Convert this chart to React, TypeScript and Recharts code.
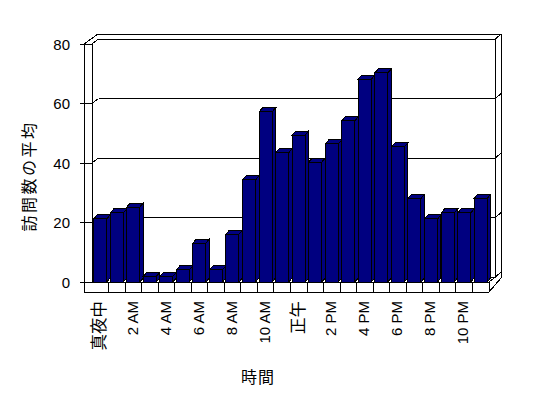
import React from 'react';
import { BarChart, Bar, XAxis, YAxis, CartesianGrid, ReferenceArea } from 'recharts';

const hourLabels = ['真夜中', '1 AM', '2 AM', '3 AM', '4 AM', '5 AM', '6 AM', '7 AM', '8 AM', '9 AM', '10 AM', '11 AM', '正午', '1 PM', '2 PM', '3 PM', '4 PM', '5 PM', '6 PM', '7 PM', '8 PM', '9 PM', '10 PM', '11 PM'];
const avgVisits = [21.2, 23.2, 25.2, 1.9, 1.9, 4.1, 13.1, 4.1, 16.1, 34.3, 57.2, 43.4, 49.4, 40.3, 46.4, 54.2, 68.2, 70.3, 45.4, 28.1, 21.2, 23.2, 23.2, 28.1];
const yTicks = [0, 20, 40, 60, 80];
const xTitle = '時間';
const yTitle = '訪問数の平均';

const data = hourLabels.map((hour, i) => ({ hour, visits: avgVisits[i] }));

const FONT = "'Liberation Sans', 'Noto Sans CJK JP', sans-serif";
const NAVY = '#000080';
const WALL_DX = 6.5;
const WALL_DY = 5;
const BAR_DX = 3.5;
const BAR_DY = 4;

function Bar3D(props: any) {
  const { x, y, width, height } = props;
  if (x == null || y == null || !width) return null;
  const r = x + width;
  const b = y + height;
  return (
    <g stroke="#000" strokeWidth={1} fill={NAVY} shapeRendering="crispEdges">
      <polygon points={`${r},${y} ${r + BAR_DX},${y - BAR_DY} ${r + BAR_DX},${b - BAR_DY} ${r},${b}`} />
      <polygon points={`${x},${y} ${x + BAR_DX},${y - BAR_DY} ${r + BAR_DX},${y - BAR_DY} ${r},${y}`} />
      <rect x={x} y={y} width={width} height={height} />
    </g>
  );
}

function GridLine(props: any) {
  const { x1, x2, y1 } = props;
  const by = y1 - WALL_DY;
  return (
    <g stroke="#000" strokeWidth={1} fill="none" shapeRendering="crispEdges">
      <line x1={x1 - 12} y1={y1} x2={x1} y2={y1} />
      <line x1={x1} y1={y1} x2={x1 + WALL_DX} y2={by} />
      <line x1={x1 + WALL_DX} y1={by} x2={x2 + WALL_DX} y2={by} />
      <line x1={x2 + WALL_DX} y1={by} x2={x2 + WALL_DX + 5.5} y2={by - 5} />
    </g>
  );
}

function Frame(props: any) {
  const { x, y, width, height } = props;
  const r = x + width;
  const b = y + height;
  const ol = x - 8;
  const fb = b + 10;
  const br = r + WALL_DX;
  const or = br + 5.5;
  const ot = y - 10;
  return (
    <g stroke="#000" strokeWidth={1} fill="none">
      <g shapeRendering="crispEdges">
        <polygon points={`${ol},${y} ${x + 6},${ot} ${or},${ot} ${or},${b - 4} ${r},${fb} ${ol},${fb}`} />
        <line x1={ol} y1={y} x2={x} y2={y} />
        <line x1={x} y1={y} x2={x} y2={b} />
        <line x1={x} y1={b} x2={r} y2={b} />
        <line x1={r} y1={b} x2={r} y2={fb} />
        <line x1={r} y1={b} x2={br} y2={b - WALL_DY} />
        <line x1={br} y1={y - WALL_DY} x2={br} y2={b - WALL_DY} />
        <line x1={br} y1={y - WALL_DY} x2={or} y2={ot} />
      </g>
      <text x={258} y={377} textAnchor="middle" dominantBaseline="central" fontSize={16} letterSpacing={1} fontFamily={FONT} fill="#000" stroke="none">{xTitle}</text>
      <text x={29} y={176} transform="rotate(-90 29 176)" textAnchor="middle" dominantBaseline="central" fontSize={16} letterSpacing={2.5} fontFamily={FONT} fill="#000" stroke="none">{yTitle}</text>
    </g>
  );
}

function XTick(props: any) {
  const { x, y, payload, index } = props;
  const half = payload && payload.offset ? payload.offset : 8.27;
  const i = payload && payload.index != null ? payload.index : index;
  const left = x - half;
  const ly = y + 19;
  const label = String(payload.value);
  const isCJK = /[^\x00-\x7F]/.test(label);
  return (
    <g>
      {i > 0 && <line x1={left} y1={y} x2={left} y2={y + 10} stroke="#000" strokeWidth={1} shapeRendering="crispEdges" />}
      {i % 2 === 0 && (
        <text x={x - 1} y={ly} transform={`rotate(-90 ${x - 1} ${ly})`} textAnchor="end" dy="0.35em" fontSize={isCJK ? 16.5 : 15} fontFamily={FONT} fill="#000">
          {label}
        </text>
      )}
    </g>
  );
}

function YTick(props: any) {
  const { x, y, payload } = props;
  return (
    <text x={x - 22} y={y} textAnchor="end" dominantBaseline="central" fontSize={15} fontFamily={FONT} fill="#000">
      {payload.value}
    </text>
  );
}

export default function App() {
  return (
    <div style={{ position: 'absolute', left: 0, top: 0, width: 548, height: 398, background: '#fff' }}>
      <BarChart width={548} height={398} data={data} margin={{ top: 44, right: 59, bottom: 0, left: 0 }} barCategoryGap="10%">
        <CartesianGrid vertical={false} horizontal={(p: any) => <GridLine {...p} />} />
        <XAxis dataKey="hour" interval={0} axisLine={false} tickLine={false} tickSize={0} tickMargin={0} height={116} tick={XTick} />
        <YAxis domain={[0, 80]} ticks={yTicks} axisLine={false} tickLine={false} tickSize={0} tickMargin={0} width={92} tick={YTick} />
        <ReferenceArea y1={0} y2={80} shape={Frame} ifOverflow="visible" fill="none" stroke="none" />
        <Bar dataKey="visits" fill={NAVY} shape={Bar3D} isAnimationActive={false} />
      </BarChart>
    </div>
  );
}
